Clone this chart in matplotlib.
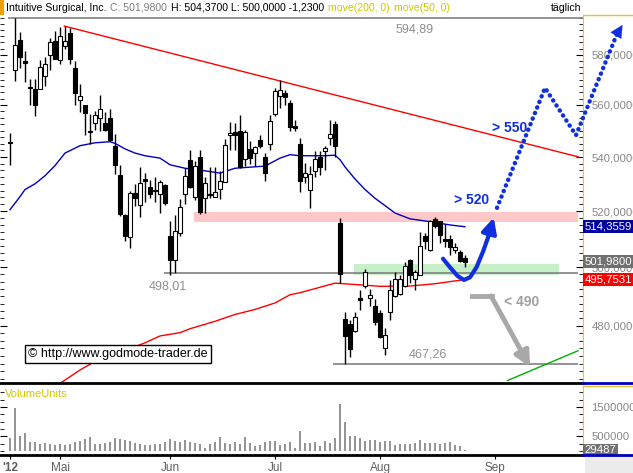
import numpy as np
import matplotlib
matplotlib.use("Agg")
import matplotlib.pyplot as plt
from matplotlib.ticker import FixedLocator, NullFormatter, FuncFormatter
from matplotlib.lines import Line2D
from matplotlib.patches import Rectangle

W, H = 633, 473
plt.rcParams['font.family'] = ['Liberation Sans', 'DejaVu Sans']

# daily candles, index 0 = 17 Apr 2012 ... index 91 = 24 Aug 2012
opens = [545.5, 573.9, 586.0, 577.5, 567.2, 566.4, 566.4, 571.4, 579.9, 585.6,
         577.9, 583.6, 589.0, 574.8, 561.9, 559.8, 550.0, 553.0, 554.8, 553.1,
         555.0, 544.0, 533.4, 518.7, 510.6, 526.8, 522.3, 531.7, 529.0, 527.8,
         526.2, 529.6, 511.1, 502.4, 512.0, 526.3, 539.0, 525.1, 540.0, 524.8,
         526.3, 525.1, 528.0, 530.8, 548.4, 549.4, 550.0, 539.3, 543.1, 541.5,
         546.6, 540.0, 545.0, 556.6, 563.4, 564.7, 560.7, 552.0, 545.0, 532.5,
         527.8, 534.6, 540.0, 542.1, 547.2, 552.7, 515.7, 482.2, 480.7, 478.1,
         489.4, 493.6, 489.4, 486.8, 484.3, 472.6, 484.8, 490.0, 490.8, 493.6,
         502.6, 495.9, 497.4, 511.1, 506.2, 517.1, 516.3, 509.8, 510.0, 505.9,
         505.4, 503.2]
highs = [549.3, 594.89, 589.4, 581.5, 570.4, 570.4, 577.9, 579.1, 586.7, 589.7,
         591.4, 591.7, 591.0, 577.5, 568.1, 560.0, 556.3, 557.6, 563.9, 557.4,
         558.3, 548.6, 537.1, 519.0, 527.3, 530.0, 536.3, 534.2, 531.5, 532.7,
         531.5, 529.8, 516.5, 518.6, 524.5, 535.9, 542.5, 538.4, 542.5, 532.7,
         536.3, 536.3, 534.6, 547.0, 553.3, 553.0, 556.2, 550.4, 546.2, 544.3,
         548.5, 541.5, 556.2, 566.7, 569.7, 566.0, 562.0, 554.3, 547.3, 537.8,
         536.5, 542.1, 542.1, 544.3, 554.3, 553.7, 517.5, 484.8, 481.8, 484.8,
         492.2, 499.4, 492.4, 488.9, 485.4, 479.2, 495.7, 498.2, 497.4, 501.7,
         502.8, 499.1, 512.3, 512.1, 516.9, 517.8, 516.6, 515.4, 511.5, 508.6,
         506.0, 504.37]
lows = [537.2, 569.4, 574.8, 569.0, 560.0, 555.7, 566.1, 567.5, 573.9, 578.1,
        576.1, 582.2, 576.3, 560.0, 557.4, 548.4, 545.1, 550.2, 549.9, 549.9,
        546.0, 533.8, 518.1, 509.1, 506.8, 521.7, 517.8, 523.2, 524.8, 523.2,
        519.3, 522.3, 497.3, 498.01, 511.1, 522.6, 528.4, 524.2, 519.0, 519.3,
        524.8, 525.1, 524.4, 530.5, 542.8, 542.8, 535.9, 536.5, 537.5, 536.5,
        543.4, 530.9, 542.5, 555.6, 558.8, 560.1, 549.8, 549.8, 527.1, 530.3,
        521.1, 532.7, 533.4, 535.2, 544.6, 540.0, 494.5, 467.26, 469.6, 478.0,
        485.4, 492.8, 486.8, 480.3, 475.9, 470.4, 482.0, 489.9, 490.5, 493.2,
        494.4, 492.0, 497.4, 506.4, 505.6, 513.9, 508.7, 507.3, 504.3, 504.9,
        501.9, 500.0]
closes = [545.3, 584.0, 579.1, 576.8, 566.7, 560.0, 575.0, 576.1, 585.2, 578.4,
          587.6, 585.6, 578.1, 564.8, 563.5, 556.7, 549.5, 556.1, 558.5, 550.2,
          546.6, 537.1, 518.9, 510.9, 526.7, 524.8, 530.3, 531.2, 526.2, 527.4,
          530.8, 523.0, 502.4, 513.0, 521.6, 533.0, 529.0, 536.5, 519.6, 530.3,
          525.9, 527.1, 531.1, 544.6, 549.0, 548.3, 536.3, 549.5, 539.6, 543.8,
          544.0, 534.0, 553.7, 565.4, 565.8, 563.0, 551.5, 550.9, 531.2, 534.2,
          533.8, 539.3, 536.3, 543.4, 548.8, 544.3, 497.8, 476.6, 472.2, 482.9,
          488.6, 498.2, 490.5, 481.1, 476.4, 477.0, 492.2, 496.0, 496.0, 500.5,
          497.4, 498.2, 507.6, 509.4, 516.6, 514.7, 511.5, 509.4, 507.3, 507.1,
          502.3, 501.98]
# volume in thousand units
volume_k = [455, 1477, 511, 625, 318, 318, 250, 284, 250, 205,
            250, 205, 250, 318, 341, 398, 477, 250, 227, 284,
            307, 432, 420, 375, 341, 261, 227, 205, 205, 227,
            250, 307, 398, 341, 307, 375, 318, 284, 250, 114,
            250, 307, 477, 261, 227, 307, 227, 477, 284, 170,
            205, 307, 341, 341, 205, 250, 307, 114, 682, 284,
            284, 307, 170, 341, 284, 432, 1613, 1000, 511, 511,
            455, 341, 375, 375, 318, 341, 341, 205, 250, 250,
            250, 284, 375, 284, 261, 261, 250, 284, 307, 205,
            170, 29.487]

# moving averages
ma50_idx = [0, 2, 3, 5, 7, 9, 11, 14, 17, 20, 21, 23, 25, 27, 30, 32, 35, 38, 42,
            45, 51, 54, 56, 58, 63, 65, 66, 67, 69, 71, 73, 75, 77, 80, 84, 88, 91]
ma50_val = [520.5, 525.3, 527.9, 530.0, 533.0, 536.8, 541.5, 544.3, 545.4, 545.8,
            545.2, 543.1, 541.5, 540.5, 539.6, 537.1, 535.8, 535.1, 534.0, 535.8,
            536.6, 539.6, 540.9, 540.5, 540.5, 540.7, 539.0, 536.3, 531.8, 527.9,
            524.7, 522.0, 519.3, 517.2, 516.2, 515.0, 514.3559]
ma200_idx = [9, 14, 17, 27, 30, 34, 36, 41, 45, 49, 53, 56, 58, 65, 71, 74, 80, 85, 91]
ma200_val = [460.0, 465.4, 468.2, 474.3, 476.6, 477.7, 479.0, 481.5, 483.8, 485.5,
             487.7, 490.5, 491.2, 494.5, 493.8, 493.4, 493.5, 494.3, 495.7531]

month_labels = ["'12", "Mai", "Jun", "Jul", "Aug", "Sep"]
month_pos = [0, 10, 32, 53, 74, 97]
price_ticks = [480, 500, 520, 540, 560, 580]
vol_ticks = [500000, 1500000]

fig = plt.figure(figsize=(W / 100, H / 100), dpi=100)
ax = fig.add_axes([0, (H - 383) / H, 583 / W, (383 - 15) / H])
axv = fig.add_axes([0, (H - 455) / H, 583 / W, (455 - 386) / H])

o = np.array(opens); hi = np.array(highs); lo = np.array(lows); c = np.array(closes)
idx = np.arange(len(o))
up = c >= o

ax.set_yscale('log')
ax.set_xlim(-2, 114.6)
ax.set_ylim(461.2, 596.3)

# zones
ax.fill_between([36.8, 113.6], 516.2, 519.5, color='#ffc8c8', lw=0, zorder=1)
ax.fill_between([68.8, 109.8], 497.4, 501.2, color='#c8f0c8', lw=0, zorder=1)

# support / resistance lines
ax.hlines(594.89, -0.5, 114.6, color='#808080', lw=1.2, zorder=2)
ax.hlines(498.01, 30.8, 113.6, color='#808080', lw=1.2, zorder=2)
ax.hlines(467.26, 64.6, 113.6, color='#808080', lw=1.2, zorder=2)
ax.text(81, 590.3, '594,89', color='#909090', fontsize=9, ha='center', va='center')
ax.text(31.6, 493.3, '498,01', color='#909090', fontsize=9, ha='center', va='center')
ax.text(83.6, 470.4, '467,26', color='#909090', fontsize=9, ha='center', va='center')

# trend lines
ax.plot([10.86, 113.6], [591.7, 540.1], color='red', lw=1, zorder=2)
ax.plot([99.5, 113.6], [462.0, 471.7], color='#00b000', lw=1, zorder=2)

# moving averages
ax.plot(ma50_idx, ma50_val, color='#0000c0', lw=1, zorder=2)
ax.plot(ma200_idx, ma200_val, color='red', lw=1, zorder=2)

# candles
ax.vlines(idx, lo, hi, color='black', lw=1, zorder=3)
body = np.maximum(np.abs(c - o), 0.35)
ax.bar(idx, body, bottom=np.minimum(o, c), width=0.7,
       color=np.where(up, 'white', 'black'), edgecolor='black', lw=0.8, zorder=4)

# scenario arrows
blue = '#1030e0'
curve_i = [86.6, 88.0, 89.5, 90.8, 92.0, 93.3, 94.6, 95.7]
curve_p = [503.0, 500.0, 497.0, 495.6, 496.5, 500.0, 505.5, 511.0]
ax.plot(curve_i, curve_p, color=blue, lw=3, solid_capstyle='round', zorder=6)
ax.annotate('', xy=(96.9, 518.6), xytext=(95.5, 510.0),
            arrowprops=dict(arrowstyle='-|>,head_length=0.9,head_width=0.45',
                            color=blue, lw=3), zorder=6)
dot_i = [97.4, 107.0, 113.2, 121.6]
dot_p = [521.2, 566.7, 548.3, 589.5]
ax.plot(dot_i, dot_p, color=blue, lw=3.2, ls=(0, (0.05, 1.3)),
        dash_capstyle='round', clip_on=False, zorder=6)
ax.annotate('', xy=(122.8, 593.2), xytext=(121.4, 588.5),
            arrowprops=dict(arrowstyle='-|>,head_length=0.9,head_width=0.45',
                            color=blue, lw=0.1), annotation_clip=False, zorder=6)
ax.plot([92.4, 96.4], [490.1, 490.1], color='#a8a8a8', lw=3.5, zorder=6)
ax.annotate('', xy=(104.0, 466.4), xytext=(96.2, 490.1),
            arrowprops=dict(arrowstyle='-|>,head_length=0.9,head_width=0.45',
                            color='#a8a8a8', lw=3.5, shrinkA=0, shrinkB=0), zorder=6)
ax.text(100.0, 551.2, '> 550', color=blue, fontsize=10, fontweight='bold',
        ha='center', va='center')
ax.text(92.4, 524.1, '> 520', color=blue, fontsize=10, fontweight='bold',
        ha='center', va='center')
ax.text(102.4, 488.1, '< 490', color='#a0a0a0', fontsize=10, fontweight='bold',
        ha='center', va='center')

ax.text(28 / 583, 1 - (354 - 15) / 368, '\u00a9 http://www.godmode-trader.de',
        transform=ax.transAxes, fontsize=9, va='center', ha='left', zorder=7,
        bbox=dict(boxstyle='square,pad=0.25', fc='white', ec='black', lw=1))

# price axis
ax.yaxis.tick_right()
ax.yaxis.set_major_locator(FixedLocator(price_ticks))
ax.yaxis.set_minor_locator(FixedLocator(np.arange(462.5, 596, 2.5)))
ax.yaxis.set_major_formatter(FuncFormatter(lambda v, p: f'{v:.4f}'.replace('.', ',')))
ax.yaxis.set_minor_formatter(NullFormatter())
ax.tick_params(axis='y', which='both', direction='in', left=True, right=True,
               labelsize=8.2, labelcolor='#888888', pad=6)
ax.tick_params(axis='y', which='major', length=5)
ax.tick_params(axis='y', which='minor', length=3)
ax.tick_params(axis='x', which='both', bottom=False, labelbottom=False)
for s in ['top', 'left']:
    ax.spines[s].set_visible(False)
ax.spines['right'].set_color('#f0c030')
ax.spines['bottom'].set_linewidth(2)

tag = dict(fontsize=8.2, color='white', va='center', ha='left', zorder=8)
tr = ax.get_yaxis_transform()
ax.text(1.003, 514.3559, '514,3559', transform=tr, clip_on=False,
        bbox=dict(boxstyle='square,pad=0.12', fc='#0000a0', ec='none'), **tag)
ax.text(1.003, 501.98, '501,9800', transform=tr, clip_on=False,
        bbox=dict(boxstyle='square,pad=0.12', fc='#707070', ec='none'), **tag)
ax.text(1.003, 495.7531, '495,7531', transform=tr, clip_on=False,
        bbox=dict(boxstyle='square,pad=0.12', fc='#ff0000', ec='none'), **tag)

# volume panel
vol = np.array(volume_k) * 1000
axv.vlines(idx, 0, vol, color='#808080', lw=1.2)
axv.set_xlim(-2, 114.6)
axv.set_ylim(-137000, 2220000)
axv.yaxis.tick_right()
axv.yaxis.set_major_locator(FixedLocator(vol_ticks))
axv.yaxis.set_minor_locator(FixedLocator(np.arange(0, 2200000, 250000)))
axv.yaxis.set_major_formatter(FuncFormatter(lambda v, p: f'{int(v)}'))
axv.tick_params(axis='y', which='both', direction='in', left=True, right=True,
                labelsize=8.2, labelcolor='#888888', pad=6)
axv.tick_params(axis='y', which='major', length=5)
axv.tick_params(axis='y', which='minor', length=3)
axv.set_xticks(month_pos)
axv.set_xticklabels(month_labels)
axv.tick_params(axis='x', direction='out', length=3, labelsize=8.5,
                labelcolor='#606060', pad=2)
axv.get_xticklabels()[0].set_fontweight('bold')
for s in ['top', 'left']:
    axv.spines[s].set_visible(False)
axv.spines['right'].set_color('#f0c030')
axv.spines['bottom'].set_linewidth(2)
axv.text(5 / 583, 0.88, 'VolumeUnits', transform=axv.transAxes, color='#d0c800',
         fontsize=8, va='center', ha='left')
axv.text(1.003, 29487, '29487', transform=axv.get_yaxis_transform(), clip_on=False,
         bbox=dict(boxstyle='square,pad=0.12', fc='#707070', ec='none'),
         fontsize=8.2, color='white', va='center', ha='left')

# header, pieces laid out one after the other
renderer = fig.canvas.get_renderer()
header = [('Intuitive Surgical, Inc.', 'black'), ('C: 501,9800', '#808080'),
          ('H: 504,3700 L: 500,0000 -1,2300', 'black'),
          ('move(200, 0)', '#d0c800'), ('move(50, 0)', '#d0c800')]
xpos = 6.0
for s, col in header:
    t = fig.text(xpos / W, 1 - 8 / H, s, fontsize=7.6, va='center', color=col)
    xpos = t.get_window_extent(renderer=renderer).x1 + 4
fig.text(551 / W, 1 - 8 / H, 't\u00e4glich', fontsize=7.6, va='center')
fig.add_artist(Rectangle((0, 1 - 15 / H), 4 / W, 15 / H, transform=fig.transFigure,
                         fc='#f0a000', ec='none'))

# frame bits of the right scale area
def hline(y, x0, x1, col, lw=1):
    fig.add_artist(Line2D([x0 / W, x1 / W], [1 - y / H, 1 - y / H],
                          transform=fig.transFigure, color=col, lw=lw))

hline(15, 583, 633, '#f0c030')
hline(383, 583, 633, '#0000c0', 2)
hline(386, 583, 633, '#f0c030')
hline(455, 583, 633, '#0000c0', 2)
fig.add_artist(Rectangle((585 / W, 0), 48 / W, 17 / H, transform=fig.transFigure,
                         fc='#ececec', ec='none'))

fig.savefig('out.png', dpi=100)
